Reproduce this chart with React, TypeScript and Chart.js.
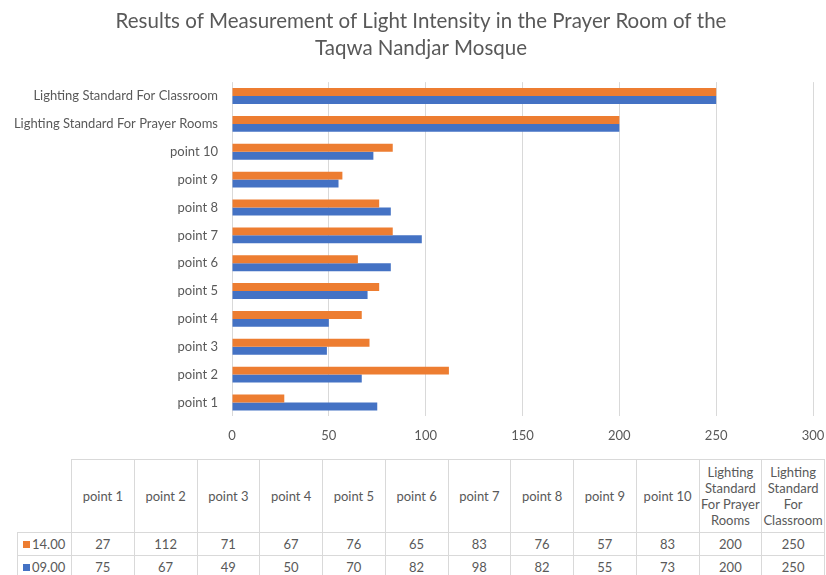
import React, { useEffect, useRef } from "react";
import { Chart, registerables } from "chart.js";

Chart.register(...registerables);

const titleLines = [
  "Results of Measurement of Light Intensity in the Prayer Room of the",
  "Taqwa Nandjar Mosque",
];
const categories = [
  "point 1",
  "point 2",
  "point 3",
  "point 4",
  "point 5",
  "point 6",
  "point 7",
  "point 8",
  "point 9",
  "point 10",
  "Lighting Standard For Prayer Rooms",
  "Lighting Standard For Classroom",
];
const seriesNames = ["14.00", "09.00"];
const values1400 = [27, 112, 71, 67, 76, 65, 83, 76, 57, 83, 200, 250];
const values0900 = [75, 67, 49, 50, 70, 82, 98, 82, 55, 73, 200, 250];
const xMin = 0;
const xMax = 300;
const xStep = 50;

const ORANGE = "#ED7D31";
const BLUE = "#4472C4";
const TEXT = "#595959";
const GRID = "#D9D9D9";
const FONT = "Lato, 'Open Sans', sans-serif";

export default function App() {
  const ref = useRef<HTMLCanvasElement | null>(null);

  useEffect(() => {
    if (!ref.current) return;
    const rev = <T,>(a: T[]) => a.slice().reverse();
    const widenLabelArea = {
      id: "widenLabelArea",
      afterLayout(chart: any) {
        if (chart.scales.y) chart.scales.y.left = 0;
      },
    };
    const chart = new Chart(ref.current, {
      type: "bar",
      data: {
        labels: rev(categories),
        datasets: [
          {
            label: seriesNames[0],
            data: rev(values1400),
            backgroundColor: ORANGE,
            categoryPercentage: 0.57,
            barPercentage: 1,
          },
          {
            label: seriesNames[1],
            data: rev(values0900),
            backgroundColor: BLUE,
            categoryPercentage: 0.57,
            barPercentage: 1,
          },
        ],
      },
      plugins: [widenLabelArea],
      options: {
        indexAxis: "y",
        responsive: false,
        animation: false,
        devicePixelRatio: 1,
        layout: { padding: { left: 16, right: 0, top: 0, bottom: 0 } },
        plugins: {
          legend: { display: false },
          tooltip: { enabled: false },
          title: {
            display: true,
            text: titleLines,
            color: TEXT,
            font: { family: FONT, size: 20.5, weight: "normal", lineHeight: 1.32 },
            padding: { top: 8, bottom: 20 },
          },
        },
        scales: {
          x: {
            min: xMin,
            max: xMax,
            ticks: {
              stepSize: xStep,
              color: TEXT,
              font: { family: FONT, size: 13 },
              padding: 12,
            },
            grid: { color: GRID, lineWidth: 1, drawTicks: false },
            border: { display: false },
            afterFit: (scale: any) => {
              scale.paddingRight = 13;
            },
          },
          y: {
            grid: { display: false },
            border: { display: false },
            ticks: {
              color: TEXT,
              font: { family: FONT, size: 13 },
              padding: 6,
              autoSkip: false,
            },
            afterFit: (scale: any) => {
              scale.width = 216;
            },
          },
        },
      },
    });
    return () => chart.destroy();
  }, []);

  const cellBorder = `1px solid ${GRID}`;
  const colW = 62.75;
  const baseCell: React.CSSProperties = {
    border: cellBorder,
    textAlign: "center",
    padding: 0,
    color: TEXT,
    fontFamily: FONT,
    fontSize: 13,
  };
  const rows = [
    { name: seriesNames[0], color: ORANGE, vals: values1400 },
    { name: seriesNames[1], color: BLUE, vals: values0900 },
  ];

  return (
    <div
      style={{
        position: "absolute",
        left: 0,
        top: 0,
        width: 826,
        height: 575,
        overflow: "hidden",
        background: "#fff",
      }}
    >
      <canvas ref={ref} width={826} height={456} style={{ display: "block" }} />
      <table
        style={{
          position: "absolute",
          left: 17,
          top: 459,
          borderCollapse: "collapse",
          tableLayout: "fixed",
          width: 54 + colW * 12,
        }}
      >
        <colgroup>
          <col style={{ width: 54 }} />
          {categories.map((c) => (
            <col key={c} style={{ width: colW }} />
          ))}
        </colgroup>
        <tbody>
          <tr style={{ height: 73 }}>
            <td
              style={{
                ...baseCell,
                borderTop: "none",
                borderLeft: "none",
              }}
            />
            {categories.map((c) => (
              <td key={c} style={{ ...baseCell, lineHeight: "16px" }}>
                {c}
              </td>
            ))}
          </tr>
          {rows.map((r) => (
            <tr key={r.name} style={{ height: 23 }}>
              <td style={{ ...baseCell, textAlign: "left", paddingLeft: 5, whiteSpace: "nowrap" }}>
                <span
                  style={{
                    display: "inline-block",
                    width: 7,
                    height: 7,
                    background: r.color,
                    marginRight: 2,
                    verticalAlign: "middle",
                    position: "relative",
                    top: -1,
                  }}
                />
                {r.name}
              </td>
              {r.vals.map((v, i) => (
                <td key={i} style={baseCell}>
                  {v}
                </td>
              ))}
            </tr>
          ))}
        </tbody>
      </table>
    </div>
  );
}
